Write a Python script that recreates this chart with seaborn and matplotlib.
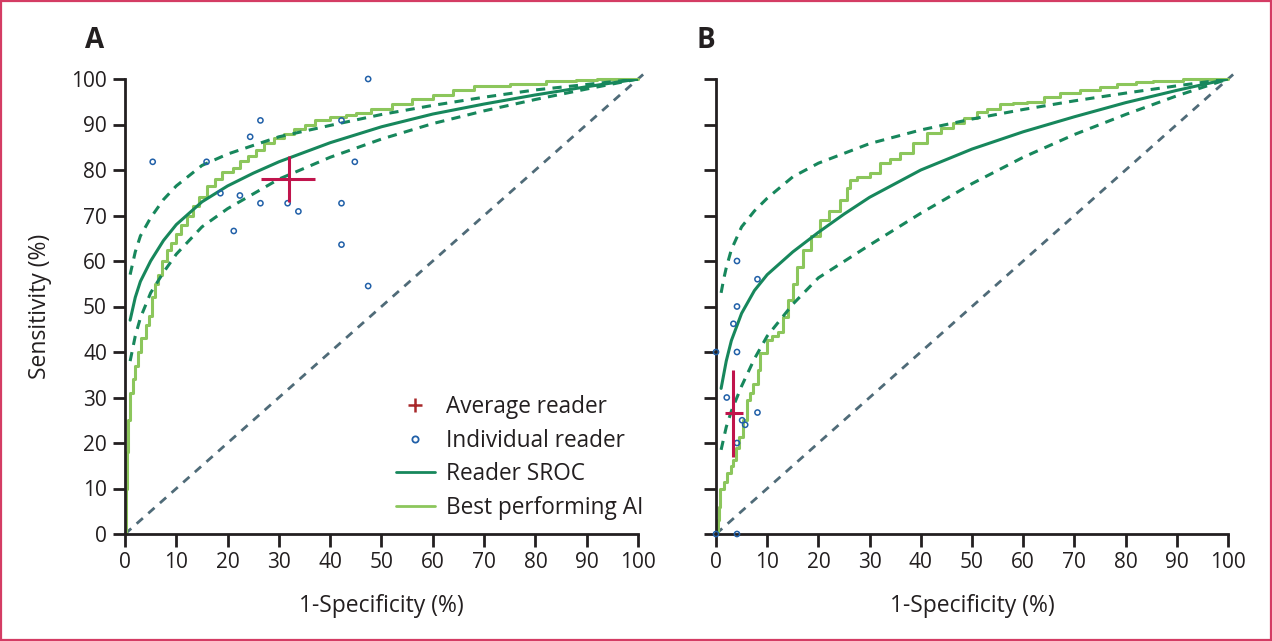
import matplotlib
matplotlib.use("Agg")
import matplotlib.pyplot as plt
import seaborn as sns
import numpy as np
import pandas as pd
from matplotlib.lines import Line2D
from matplotlib.patches import Rectangle

sns.set_style("ticks")
plt.rcParams["font.family"] = ["Open Sans", "DejaVu Sans"]

# ---------------------------------------------------------------------------
# Data (values in %)
# ---------------------------------------------------------------------------
# Panel A
sroc_a_fpr = [1, 2, 3, 5, 7.5, 10, 15, 20, 25, 30, 40, 50, 60, 70, 80, 90, 100]
sroc_a_tpr = [47, 52, 55.5, 60, 64.5, 68, 73, 76.5, 79.3, 81.8, 86, 89.5, 92.3, 94.5, 96.5, 98.3, 100]
ci_a_fpr = [1, 2, 3, 5, 7.5, 10, 15, 20, 30, 40, 50, 60, 70, 80, 90, 100]
ci_a_upper = [57, 62, 65.5, 69.5, 73.5, 76.5, 81, 83.5, 87.3, 89.8, 92.2, 94.2, 96, 97.6, 98.8, 100]
ci_a_lower = [38, 43.5, 47.5, 53, 57.5, 61.5, 67.5, 71.5, 78, 82.8, 86.8, 90.2, 93, 95.5, 97.8, 100]

ai_a_fpr = [0, 0.2, 0.3, 0.6, 0.9, 1.5, 2, 2.6, 3.2, 4, 4.7, 5.2, 5.8, 6.5, 7.3, 8.2, 9, 10,
            11, 12, 13.3, 14.5, 16, 17.5, 19, 21, 22.5, 24, 25.5, 27, 29, 31, 33, 35, 37,
            40, 43, 45, 48, 52, 56, 60, 64, 68, 75, 82, 88, 92, 100]
ai_a_tpr = [0, 10, 18, 25, 31, 34, 37, 40, 43, 46, 48, 52, 55, 57, 60, 62.5, 64, 66,
            68, 70, 72, 74, 76.5, 78, 79.5, 80.5, 82, 83, 84.5, 86, 87, 88, 89, 90, 91,
            91.6, 92, 92.5, 93.5, 94.5, 95.5, 96.5, 97.5, 98.5, 99, 99.5, 99.8, 100, 100]

readers_a_fpr = [5.4, 15.9, 26.4, 24.4, 18.6, 22.4, 26.4, 31.7, 33.8, 21.2, 42.2, 42.2, 42.2, 44.8, 47.4, 47.4]
readers_a_tpr = [81.8, 81.8, 90.9, 87.3, 74.9, 74.4, 72.7, 72.7, 70.9, 66.6, 90.9, 72.7, 63.6, 81.8, 100, 54.5]

avg_a = (32, 78)
avg_a_xerr = ([32 - 26.5], [37 - 32])
avg_a_yerr = ([78 - 73], [83 - 78])

# Panel B
sroc_b_fpr = [1, 2, 3, 5, 7.5, 10, 15, 20, 25, 30, 40, 50, 60, 70, 80, 90, 100]
sroc_b_tpr = [32, 38, 42.5, 48.5, 53.5, 57, 62, 66.3, 70.3, 74, 80, 84.6, 88.4, 91.7, 94.8, 97.5, 100]
ci_b_fpr = [1, 1.5, 2, 3, 5, 7.5, 10, 15, 20, 30, 40, 50, 60, 70, 80, 90, 100]
ci_b_upper = [53, 56, 58.5, 62.5, 67.5, 71, 73.8, 78.5, 81.5, 85.8, 88.8, 91.2, 93.3, 95.2, 96.9, 98.5, 100]
ci_b_lower = [18.5, 21, 23.5, 27, 32.5, 38.5, 43.5, 50.5, 56.3, 63.5, 70.5, 77, 82.8, 87.8, 92.2, 96.3, 100]

ai_b_fpr = [0, 0.3, 0.5, 0.8, 1.5, 2.1, 3, 3.4, 4, 4.4, 5.3, 6, 6.6, 7.3, 8.2, 8.6, 9.9, 11,
            12.2, 13.1, 14.1, 15, 15.8, 17, 18.5, 20.3, 22, 24.2, 25.5, 26.2, 27.5, 30.1,
            32, 34, 35.9, 38.5, 41.2, 44, 46.3, 48.5, 50.9, 53, 55.5, 58, 60.7, 64, 67.2,
            71, 75, 78.3, 82, 85.4, 91.3, 100]
ai_b_tpr = [0, 3, 6, 10, 11.5, 13.3, 15, 16.3, 19, 21.4, 25, 29.5, 31, 33, 36, 39.7, 42.6, 43.5,
            44.5, 47.8, 51.4, 55, 58.7, 62.4, 65.5, 69, 71, 73.4, 76, 77.8, 78.5, 79.3,
            81.5, 82.5, 83.7, 85.9, 88.1, 89.3, 90.3, 91.5, 92.8, 93.5, 94.5, 94.8, 95, 96, 96.9,
            97.5, 98.3, 98.9, 99.3, 99.6, 100, 100]

readers_b_fpr = [4.1, 8.1, 4.1, 3.4, 0, 4.1, 2.1, 8.1, 5.1, 5.7, 4.1, 0, 4.1]
readers_b_tpr = [60, 56, 50, 46.2, 40, 40, 30, 26.7, 25, 24, 20, 0, 0]

avg_b = (3.4, 26.5)
avg_b_xerr = ([3.4 - 1.8], [5.2 - 3.4])
avg_b_yerr = ([26.5 - 17], [36 - 26.5])

diag = [0, 101]

# ---------------------------------------------------------------------------
# Styles
# ---------------------------------------------------------------------------
c_sroc = "#17875c"
c_ai = "#8cc65c"
c_diag = "#4f6b78"
c_reader = "#2160a8"
c_avg = "#c0144c"
c_dark = "#231f20"

fig = plt.figure(figsize=(12.72, 6.41), dpi=100)
ax_a = fig.add_axes([125 / 1272, 1 - 534 / 641, 513 / 1272, 455 / 641])
ax_b = fig.add_axes([716 / 1272, 1 - 534 / 641, 512 / 1272, 455 / 641])


def draw_panel(ax, sroc_x, sroc_y, ci_x, ci_up, ci_lo, ai_x, ai_y, rd_x, rd_y, avg, xerr, yerr):
    sns.lineplot(x=diag, y=diag, ax=ax, color=c_diag, lw=2, linestyle=(0, (3, 2.6)),
                 estimator=None, sort=False, clip_on=False, zorder=1)
    sns.lineplot(x=ai_x, y=ai_y, ax=ax, color=c_ai, lw=2.2, drawstyle="steps-post",
                 estimator=None, sort=False, clip_on=False, zorder=2)
    sns.lineplot(x=ci_x, y=ci_up, ax=ax, color=c_sroc, lw=2.2, linestyle=(0, (3, 2.4)),
                 estimator=None, sort=False, zorder=3)
    sns.lineplot(x=ci_x, y=ci_lo, ax=ax, color=c_sroc, lw=2.2, linestyle=(0, (3, 2.4)),
                 estimator=None, sort=False, zorder=3)
    sns.lineplot(x=sroc_x, y=sroc_y, ax=ax, color=c_sroc, lw=2.2,
                 estimator=None, sort=False, zorder=3)
    sns.scatterplot(x=rd_x, y=rd_y, ax=ax, s=14, facecolor="none", edgecolor=c_reader,
                    linewidth=1.1, clip_on=False, zorder=4)
    ax.errorbar([avg[0]], [avg[1]], xerr=xerr, yerr=yerr, fmt="none", ecolor=c_avg,
                elinewidth=2.2, capsize=0, zorder=5, clip_on=False)

    ax.set_xlim(0, 100)
    ax.set_ylim(0, 100)
    ax.set_xticks(np.arange(0, 101, 10))
    ax.set_yticks(np.arange(0, 101, 10))
    sns.despine(ax=ax)
    for side in ["left", "bottom"]:
        ax.spines[side].set_linewidth(2)
        ax.spines[side].set_color(c_dark)
    ax.tick_params(direction="out", length=9, width=2, color=c_dark,
                   labelsize=15, labelcolor=c_dark, pad=4)
    ax.set_xlabel("1-Specificity (%)", fontsize=16.5, color=c_dark, labelpad=15)
    ax.grid(False)


draw_panel(ax_a, sroc_a_fpr, sroc_a_tpr, ci_a_fpr, ci_a_upper, ci_a_lower,
           ai_a_fpr, ai_a_tpr, readers_a_fpr, readers_a_tpr, avg_a, avg_a_xerr, avg_a_yerr)
draw_panel(ax_b, sroc_b_fpr, sroc_b_tpr, ci_b_fpr, ci_b_upper, ci_b_lower,
           ai_b_fpr, ai_b_tpr, readers_b_fpr, readers_b_tpr, avg_b, avg_b_xerr, avg_b_yerr)

ax_a.set_ylabel("Sensitivity (%)", fontsize=16.5, color=c_dark, labelpad=14)
ax_b.set_ylabel("")
ax_b.set_yticklabels([])

# Panel letters
fig.text(95 / 1272, 1 - 40 / 641, "A", fontsize=20, fontweight="bold", color=c_dark,
         ha="center", va="center")
fig.text(706 / 1272, 1 - 40 / 641, "B", fontsize=20, fontweight="bold", color=c_dark,
         ha="center", va="center")

# Legend
handles = [
    Line2D([], [], marker="+", color="#a8282a", linestyle="none", markersize=10, markeredgewidth=1.8),
    Line2D([], [], marker="o", markerfacecolor="none", markeredgecolor=c_reader, linestyle="none",
           markersize=4.5, markeredgewidth=1.3),
    Line2D([], [], color=c_sroc, lw=2),
    Line2D([], [], color=c_ai, lw=2),
]
labels = ["Average reader", "Individual reader", "Reader SROC", "Best performing AI"]
ax_a.legend(handles, labels, loc="lower right", bbox_to_anchor=(1.05, -0.013), frameon=False,
            fontsize=16.3, handlelength=1.7, handletextpad=0.5, labelspacing=0.42,
            labelcolor=c_dark)

# Border
fig.patches.append(Rectangle((0.001, 0.002), 0.998, 0.996, transform=fig.transFigure,
                             fill=False, edgecolor="#d43c64", linewidth=1.6))

fig.savefig("out.png", dpi=100)
